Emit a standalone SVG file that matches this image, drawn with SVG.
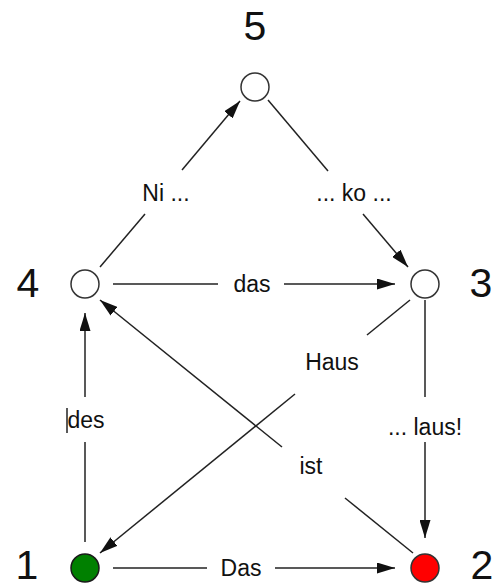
<svg xmlns="http://www.w3.org/2000/svg" width="500" height="588" viewBox="0 0 500 588">
  <style>
    .node { stroke: #333; stroke-width: 1.5; fill: #fff; }
    .edge { stroke: #222; stroke-width: 1.5; fill: none; }
    .arrow { marker-end: url(#head); }
    .lbl { font-family: "Liberation Sans", Arial, sans-serif; font-size: 23px; fill: #111; text-anchor: middle; }
    .num { font-family: "Liberation Sans", Arial, sans-serif; font-size: 41px; fill: #111; text-anchor: middle; }
  </style>
  <defs>
    <marker id="head" viewBox="0 0 18 11" refX="18" refY="5.5" markerWidth="18" markerHeight="11" markerUnits="userSpaceOnUse" orient="auto">
      <path d="M0,0 L18,5.5 L0,11 z" fill="#111"/>
    </marker>
  </defs>
  <rect width="500" height="588" fill="#fff"/>

  <g id="connectors">
    <!-- 1 -> 4 : des -->
    <line class="edge" x1="85" y1="542" x2="85" y2="442"/>
    <line class="edge arrow" x1="85" y1="397" x2="85" y2="313"/>
    <line class="edge" x1="67" y1="408" x2="67" y2="433" stroke-width="1.2"/>
    <!-- 1 -> 2 : Das -->
    <line class="edge" x1="113" y1="568" x2="207" y2="568"/>
    <line class="edge arrow" x1="275" y1="568" x2="395" y2="568"/>
    <!-- 4 -> 3 : das -->
    <line class="edge" x1="113" y1="284" x2="218" y2="284"/>
    <line class="edge arrow" x1="284" y1="284" x2="395" y2="284"/>
    <!-- 4 -> 5 : Ni ... -->
    <line class="edge" x1="100" y1="267" x2="145" y2="214"/>
    <line class="edge arrow" x1="182" y1="170" x2="240" y2="101"/>
    <!-- 5 -> 3 : ... ko ... -->
    <line class="edge" x1="268" y1="100" x2="328" y2="171"/>
    <line class="edge arrow" x1="363" y1="214" x2="408" y2="267"/>
    <!-- 3 -> 2 : ... laus! -->
    <line class="edge" x1="425" y1="300" x2="425" y2="397"/>
    <line class="edge arrow" x1="425" y1="442" x2="425" y2="538"/>
    <!-- 3 -> 1 : Haus -->
    <line class="edge" x1="410" y1="300" x2="367" y2="335"/>
    <line class="edge arrow" x1="295" y1="394" x2="100" y2="553"/>
    <!-- 2 -> 4 : ist -->
    <line class="edge" x1="413" y1="553" x2="345" y2="498"/>
    <line class="edge arrow" x1="282" y1="447" x2="100" y2="300"/>
  </g>

  <g id="edge-labels">
    <text class="lbl" x="86" y="428">des</text>
    <text class="lbl" x="241" y="576">Das</text>
    <text class="lbl" x="252" y="292">das</text>
    <text class="lbl" x="166" y="201">Ni ...</text>
    <text class="lbl" x="354" y="201">... ko ...</text>
    <text class="lbl" x="425" y="435">... laus!</text>
    <text class="lbl" x="332" y="370">Haus</text>
    <text class="lbl" x="311" y="474">ist</text>
  </g>

  <g id="node-1">
    <circle class="node" cx="85" cy="568" r="14" style="fill:#008000;stroke:#1a1a1a"/>
    <text class="num" x="27" y="579">1</text>
  </g>
  <g id="node-2">
    <circle class="node" cx="425" cy="568" r="14" style="fill:#ff0000;stroke:#333"/>
    <text class="num" x="482" y="579">2</text>
  </g>
  <g id="node-3">
    <circle class="node" cx="425" cy="284" r="14"/>
    <text class="num" x="481" y="297">3</text>
  </g>
  <g id="node-4">
    <circle class="node" cx="85" cy="284" r="14"/>
    <text class="num" x="28" y="297">4</text>
  </g>
  <g id="node-5">
    <circle class="node" cx="255" cy="87" r="14"/>
    <text class="num" x="255" y="40">5</text>
  </g>
</svg>
